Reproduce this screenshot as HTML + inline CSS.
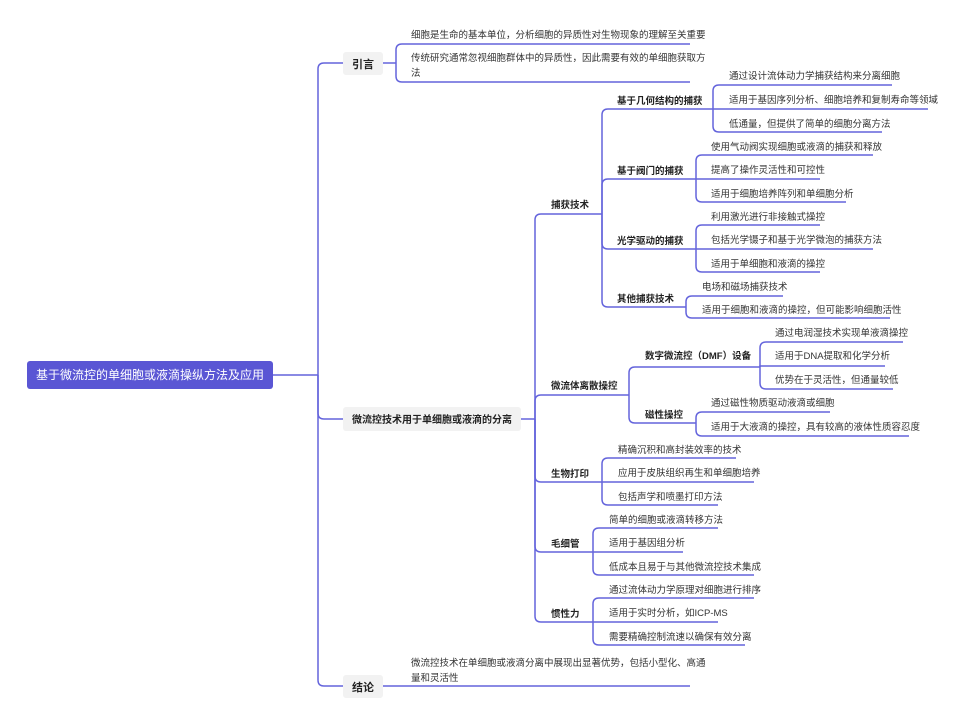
<!DOCTYPE html>
<html><head><meta charset="utf-8">
<style>
html,body{margin:0;padding:0;background:#fff;width:955px;height:726px;overflow:hidden}
svg{display:block}
text{font-family:"Liberation Sans","Noto Sans CJK SC",sans-serif;fill:#333}
.leaf{font-size:9.5px}
.b{font-size:9.5px;font-weight:bold;fill:#222}
</style></head><body>
<svg id="s" width="955" height="726" xmlns="http://www.w3.org/2000/svg">
<rect x="27" y="361" width="246" height="28" rx="3" fill="#5a56d4"/>
<text x="150" y="379" text-anchor="middle" style="font-size:12px;fill:#fff">基于微流控的单细胞或液滴操纵方法及应用</text>
<rect x="343" y="52" width="40" height="23" rx="3" fill="#f2f2f2"/>
<text x="363" y="68" text-anchor="middle" style="font-size:11px;font-weight:bold;fill:#222">引言</text>
<rect x="343" y="407" width="178" height="24" rx="3" fill="#f2f2f2"/>
<text x="432" y="423" text-anchor="middle" style="font-size:10px;font-weight:bold;fill:#222">微流控技术用于单细胞或液滴的分离</text>
<rect x="343" y="675" width="40" height="23" rx="3" fill="#f2f2f2"/>
<text x="363" y="691" text-anchor="middle" style="font-size:11px;font-weight:bold;fill:#222">结论</text>
<g id="g"></g>
</svg>
<script>
var S='http://www.w3.org/2000/svg',g=document.getElementById('g'),C='#6464dc';
function P(d){var p=document.createElementNS(S,'path');p.setAttribute('d',d);p.setAttribute('fill','none');p.setAttribute('stroke',C);p.setAttribute('stroke-width','1.5');g.appendChild(p);}
function T(x,y,s,c){var t=document.createElementNS(S,'text');t.setAttribute('x',x);t.setAttribute('y',y);t.setAttribute('class',c);t.textContent=s;g.appendChild(t);}
function B(px,py,bx,ch){P('M'+px+' '+py+'H'+bx);ch.forEach(function(c){var cy=c[0],ex=c[1],r=6;
 if(Math.abs(cy-py)<r){P('M'+bx+' '+py+'V'+cy+'H'+ex);return;}
 var s=cy>py?1:-1;P('M'+bx+' '+py+'V'+(cy-s*r)+'Q'+bx+' '+cy+' '+(bx+r)+' '+cy+'H'+ex);});}
B(273,375,318,[[63,343],[419,343],[686,343]]);
B(383,63,396,[[44,690],[82,690]]);
T(411,38,'细胞是生命的基本单位，分析细胞的异质性对生物现象的理解至关重要','leaf');
T(411,61,'传统研究通常忽视细胞群体中的异质性，因此需要有效的单细胞获取方','leaf');
T(411,76,'法','leaf');
P('M383 686H690');
T(411,666,'微流控技术在单细胞或液滴分离中展现出显著优势，包括小型化、高通','leaf');
T(411,681,'量和灵活性','leaf');
B(521,419,535,[[214,602],[395,629],[482,602],[552,593],[622,593]]);
T(551,208,'捕获技术','b');T(551,389,'微流体离散操控','b');T(551,477,'生物打印','b');T(551,547,'毛细管','b');T(551,617,'惯性力','b');
B(602,214,602,[[109,713],[179,696],[249,696],[307,686]]);
T(617,104,'基于几何结构的捕获','b');T(617,174,'基于阀门的捕获','b');T(617,244,'光学驱动的捕获','b');T(617,302,'其他捕获技术','b');
B(713,109,713,[[85,892],[109,928],[132,882]]);
T(729,79,'通过设计流体动力学捕获结构来分离细胞','leaf');T(729,103,'适用于基因序列分析、细胞培养和复制寿命等领域','leaf');T(729,127,'低通量，但提供了简单的细胞分离方法','leaf');
B(696,179,696,[[155,873],[179,820],[202,846]]);
T(711,150,'使用气动阀实现细胞或液滴的捕获和释放','leaf');T(711,173,'提高了操作灵活性和可控性','leaf');T(711,197,'适用于细胞培养阵列和单细胞分析','leaf');
B(696,249,696,[[225,820],[249,873],[272,820]]);
T(711,220,'利用激光进行非接触式操控','leaf');T(711,243,'包括光学镊子和基于光学微泡的捕获方法','leaf');T(711,267,'适用于单细胞和液滴的操控','leaf');
B(686,307,686,[[296,783],[318,890]]);
T(702,290,'电场和磁场捕获技术','leaf');T(702,313,'适用于细胞和液滴的操控，但可能影响细胞活性','leaf');
B(629,395,629,[[367,760],[423,696]]);
T(645,359,'数字微流控（DMF）设备','b');T(645,418,'磁性操控','b');
B(760,367,760,[[342,903],[366,885],[389,893]]);
T(775,336,'通过电润湿技术实现单液滴操控','leaf');T(775,359,'适用于DNA提取和化学分析','leaf');T(775,383,'优势在于灵活性，但通量较低','leaf');
B(696,423,696,[[412,830],[436,909]]);
T(711,406,'通过磁性物质驱动液滴或细胞','leaf');T(711,430,'适用于大液滴的操控，具有较高的液体性质容忍度','leaf');
B(602,482,602,[[458,736],[482,754],[505,718]]);
T(618,453,'精确沉积和高封装效率的技术','leaf');T(618,476,'应用于皮肤组织再生和单细胞培养','leaf');T(618,500,'包括声学和喷墨打印方法','leaf');
B(593,552,593,[[528,718],[552,683],[575,754]]);
T(609,523,'简单的细胞或液滴转移方法','leaf');T(609,546,'适用于基因组分析','leaf');T(609,570,'低成本且易于与其他微流控技术集成','leaf');
B(593,622,593,[[598,754],[622,718],[645,745]]);
T(609,593,'通过流体动力学原理对细胞进行排序','leaf');T(609,616,'适用于实时分析，如ICP-MS','leaf');T(609,640,'需要精确控制流速以确保有效分离','leaf');
</script>
</body></html>
